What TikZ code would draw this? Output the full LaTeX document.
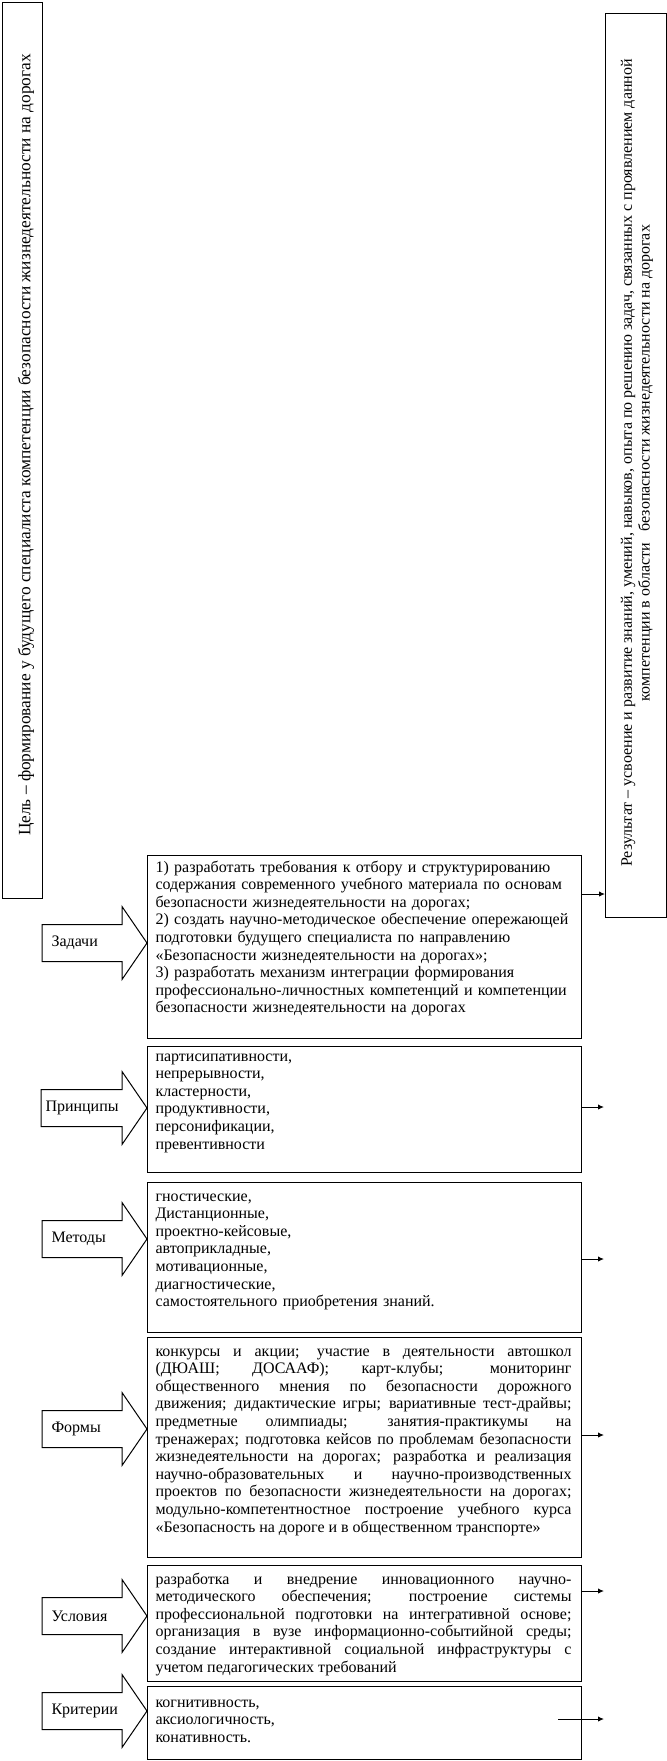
\documentclass[tikz,border=0pt]{standalone}
\usepackage{fontspec}
\setmainfont{Liberation Serif}
\usetikzlibrary{arrows.meta}

\begin{document}
\begin{tikzpicture}[x=0.75pt, y=-0.75pt, line width=0.75pt,
    >={Latex[length=4.5pt,width=4pt]}, font=\fontsize{12}{13.2}\selectfont,
    frame/.style={draw, anchor=north west, inner sep=0pt, minimum width=325.5pt},
    listtext/.style={anchor=base west, inner sep=0pt, text width=320pt, align=left},
    fulltext/.style={anchor=base west, inner sep=0pt, text width=312pt, align=justify},
    tag/.style={anchor=west, inner sep=0pt}]
  % x: 0..667 px, y: 0..1761 px (downwards)
  \useasboundingbox (0,0) rectangle (667,1761);

  % goal (left) and result (right)
  \node[draw, anchor=north west, inner sep=0pt, minimum width=30pt, minimum height=672pt] (goal) at (2,2) {};
  \node[rotate=90, inner sep=0pt, font=\fontsize{13}{14.3}\selectfont] (goaltxt) at (26,445)
    {Цель – формирование у будущего специалиста компетенции безопасности жизнедеятельности на дорогах};
  \node[draw, anchor=north west, inner sep=0pt, minimum width=45.75pt, minimum height=678pt] (res) at (605,13) {};
  \node[rotate=90, inner sep=0pt, align=center] (restxt) at (637,463)
    {Результат – усвоение и развитие знаний, умений, навыков, опыта по решению задач, связанных с проявлением данной\\
     компетенции в области \ \ безопасности жизнедеятельности на дорогах};

  % content boxes
  \node[frame, minimum height=137.25pt] (zad) at (147,855) {};
  \node[frame, minimum height=94.5pt] (prin) at (147,1046) {};
  \node[frame, minimum height=112.5pt] (met) at (147,1182) {};
  \node[frame, minimum height=165pt] (form) at (147,1337) {};
  \node[frame, minimum height=87pt] (usl) at (147,1565) {};
  \node[frame, minimum height=54.75pt] (krit) at (147,1686) {};

  \node[listtext] (zadtxt) at (155,872)
    {1) разработать требования к отбору и структурированию\\
     содержания современного учебного материала по основам\\
     безопасности жизнедеятельности на дорогах;\\
     2) создать научно-методическое обеспечение опережающей\\
     подготовки будущего специалиста по направлению\\
     «Безопасности жизнедеятельности на дорогах»;\\
     3) разработать механизм интеграции формирования\\
     профессионально-личностных компетенций и компетенции\\
     безопасности жизнедеятельности на дорогах};
  \node[listtext] (printxt) at (155,1061)
    {партисипативности,\\ непрерывности,\\ кластерности,\\ продуктивности,\\ персонификации,\\ превентивности};
  \node[listtext] (mettxt) at (155,1201)
    {гностические,\\ Дистанционные,\\ проектно-кейсовые,\\ автоприкладные,\\ мотивационные,\\ диагностические,\\
     самостоятельного приобретения знаний.};
  \node[fulltext] (formtxt) at (155,1356)
    {конкурсы и акции; участие в деятельности автошкол\linebreak
     (ДЮАШ; ДОСААФ); карт-клубы; мониторинг\linebreak
     общественного мнения по безопасности дорожного\linebreak
     движения; дидактические игры; вариативные тест-драйвы;\linebreak
     предметные олимпиады; занятия-практикумы на\linebreak
     тренажерах; подготовка кейсов по проблемам безопасности\linebreak
     жизнедеятельности на дорогах; разработка и реализация\linebreak
     научно-образовательных и научно-производственных\linebreak
     проектов по безопасности жизнедеятельности на дорогах;\linebreak
     модульно-компетентностное построение учебного курса\linebreak
     «Безопасность на дороге и в общественном транспорте»};
  \node[fulltext] (usltxt) at (155,1584)
    {разработка и внедрение инновационного научно-\linebreak
     методического обеспечения; построение системы\linebreak
     профессиональной подготовки на интегративной основе;\linebreak
     организация в вузе информационно-событийной среды;\linebreak
     создание интерактивной социальной инфраструктуры с\linebreak
     учетом педагогических требований};
  \node[listtext] (krittxt) at (155,1707)
    {когнитивность,\\ аксиологичность,\\ конативность.};

  % block arrows with labels
  \draw (42,924.5) -- ++(80,0) -- ++(0,-18) -- ++(25,36.5) -- ++(-25,36.5) -- ++(0,-18) -- ++(-80,0) -- cycle;
  \node[tag] (zadlbl) at (51,943) {Задачи};
  \draw (41,1089.5) -- ++(81,0) -- ++(0,-18) -- ++(25,36.5) -- ++(-25,36.5) -- ++(0,-18) -- ++(-81,0) -- cycle;
  \node[tag] (prinlbl) at (45,1108) {Принципы};
  \draw (42,1220.5) -- ++(80,0) -- ++(0,-18) -- ++(25,36.5) -- ++(-25,36.5) -- ++(0,-18) -- ++(-80,0) -- cycle;
  \node[tag] (metlbl) at (51,1239) {Методы};
  \draw (42,1410.5) -- ++(80,0) -- ++(0,-18) -- ++(25,36.5) -- ++(-25,36.5) -- ++(0,-18) -- ++(-80,0) -- cycle;
  \node[tag] (formlbl) at (51,1429) {Формы};
  \draw (42,1597.5) -- ++(80,0) -- ++(0,-18) -- ++(25,36.5) -- ++(-25,36.5) -- ++(0,-18) -- ++(-80,0) -- cycle;
  \node[tag] (usllbl) at (51,1616) {Условия};
  \draw (42,1692.5) -- ++(80,0) -- ++(0,-18) -- ++(25,36.5) -- ++(-25,36.5) -- ++(0,-18) -- ++(-80,0) -- cycle;
  \node[tag] (kritlbl) at (51,1711) {Критерии};

  % outgoing arrows
  \coordinate (zadout) at (581,894);
  \coordinate (prinout) at (604,1107);
  \coordinate (metout) at (604,1259);
  \coordinate (formout) at (604,1435);
  \coordinate (uslout) at (604,1591);
  \coordinate (kritin) at (558,1719);
  \coordinate (kritout) at (604,1719);
  \draw[->] (zadout) -- (res.west |- zadout);
  \draw[->] (prin.east |- prinout) -- (prinout);
  \draw[->] (met.east |- metout) -- (metout);
  \draw[->] (form.east |- formout) -- (formout);
  \draw[->] (usl.east |- uslout) -- (uslout);
  \draw[->] (kritin) -- (kritout);
\end{tikzpicture}
\end{document}
